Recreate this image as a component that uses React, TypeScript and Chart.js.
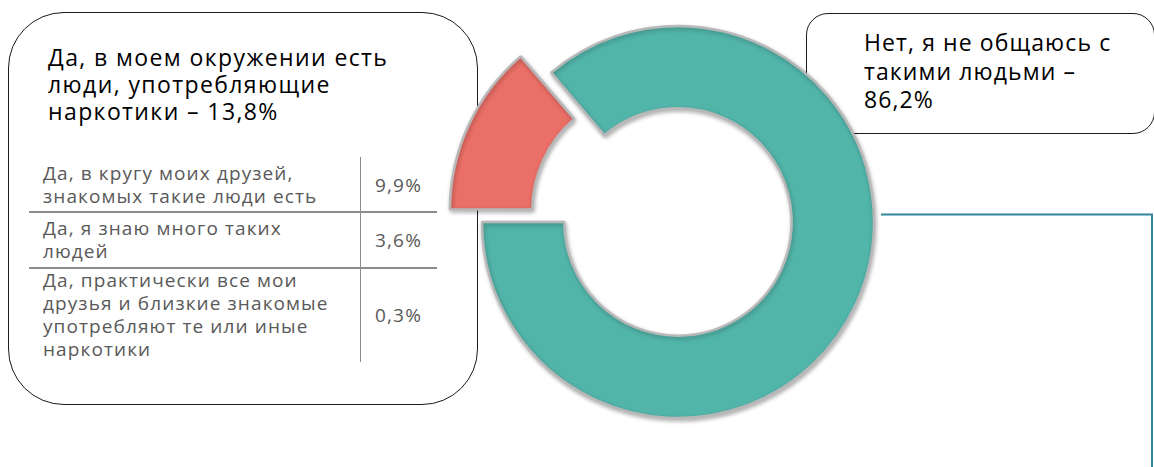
import React, { useEffect, useRef } from "react";
import { Chart, registerables } from "chart.js";

Chart.register(...registerables);

// ---- data ----
const categories = [
  "Да, в моем окружении есть\nлюди, употребляющие\nнаркотики",
  "Нет, я не общаюсь с\nтакими людьми",
];
const shares = [13.8, 86.2];
const sliceColors = ["#EA6F67", "#52B5AA"];
const sliceOffsets = [112, 0];

const subCategories = [
  "Да, в кругу моих друзей,\nзнакомых такие люди есть",
  "Да, я знаю много таких\nлюдей",
  "Да, практически все мои\nдрузья и близкие знакомые\nупотребляют те или иные\nнаркотики",
];
const subShares = [9.9, 3.6, 0.3];

const fmt = (v: number) => v.toFixed(1).replace(".", ",") + "%";

const FONT = "'Open Sans', 'Noto Sans', sans-serif";

const shadowPlugin = {
  id: "softShadow",
  beforeDatasetsDraw(chart: any) {
    const ctx = chart.ctx;
    ctx.save();
    ctx.shadowColor = "rgba(0,0,0,0.28)";
    ctx.shadowBlur = 4;
    ctx.shadowOffsetX = 1;
    ctx.shadowOffsetY = 2;
  },
  afterDatasetsDraw(chart: any) {
    chart.ctx.restore();
  },
};

const connectorPlugin = {
  id: "connector",
  afterDraw(chart: any) {
    const arc = chart.getDatasetMeta(0).data[1];
    if (!arc) return;
    const ctx = chart.ctx;
    const y = arc.y - 7.5;
    const x0 = arc.x + arc.outerRadius + 7;
    const x1 = chart.width - 2;
    ctx.save();
    ctx.strokeStyle = "#31859C";
    ctx.lineWidth = 2;
    ctx.beginPath();
    ctx.moveTo(x0, y);
    ctx.lineTo(x1, y);
    ctx.lineTo(x1, chart.height);
    ctx.stroke();
    ctx.restore();
  },
};

export default function App() {
  const ref = useRef<HTMLCanvasElement | null>(null);

  useEffect(() => {
    if (!ref.current) return;
    const chart = new Chart(ref.current, {
      type: "doughnut",
      data: {
        labels: categories.map((c) => c.replace(/\n/g, " ")),
        datasets: [
          {
            data: shares,
            backgroundColor: sliceColors,
            borderColor: "#B8B8B8",
            borderWidth: 2.5,
            offset: sliceOffsets,
            hoverOffset: 0,
          },
        ],
      },
      options: {
        animation: false,
        responsive: false,
        maintainAspectRatio: false,
        rotation: 270,
        cutout: "58%",
        radius: 196,
        layout: { padding: { left: 202, right: 0, top: 0, bottom: 23 } },
        plugins: {
          legend: { display: false },
          tooltip: { enabled: false },
        },
      } as any,
      plugins: [shadowPlugin, connectorPlugin],
    });
    return () => chart.destroy();
  }, []);

  const rowTops = [157, 212, 268];
  const rowBottoms = [212, 268, 362];

  return (
    <div
      style={{
        position: "absolute",
        left: 0,
        top: 0,
        width: 1154,
        height: 467,
        overflow: "hidden",
        background: "#fff",
        fontFamily: FONT,
      }}
    >
      {/* left box */}
      <div
        style={{
          position: "absolute",
          left: 8,
          top: 12,
          width: 468,
          height: 391,
          border: "1.3px solid #1a1a1a",
          borderRadius: 56,
        }}
      />
      <div
        style={{
          position: "absolute",
          left: 48,
          top: 44,
          fontSize: 23,
          lineHeight: "27px",
          letterSpacing: "1.4px",
          color: "#000",
          whiteSpace: "pre-line",
        }}
      >
        {categories[0] + " – " + fmt(shares[0])}
      </div>
      {/* table */}
      {subCategories.map((s, i) => (
        <React.Fragment key={i}>
          <div
            style={{
              position: "absolute",
              left: 43,
              top: rowTops[i],
              height: rowBottoms[i] - rowTops[i],
              width: 316,
              display: "flex",
              alignItems: "center",
              fontSize: 19,
              lineHeight: "23px",
              letterSpacing: "1.1px",
              color: "#595959",
              whiteSpace: "pre-line",
            }}
          >
            {s}
          </div>
          <div
            style={{
              position: "absolute",
              left: 360,
              top: rowTops[i],
              height: rowBottoms[i] - rowTops[i],
              width: 77,
              display: "flex",
              alignItems: "center",
              justifyContent: "center",
              fontSize: 19,
              letterSpacing: "1.2px",
              color: "#595959",
            }}
          >
            {fmt(subShares[i])}
          </div>
        </React.Fragment>
      ))}
      <div style={{ position: "absolute", left: 29, top: 211, width: 408, height: 1.5, background: "#8c8c8c" }} />
      <div style={{ position: "absolute", left: 29, top: 267, width: 408, height: 1.5, background: "#8c8c8c" }} />
      <div style={{ position: "absolute", left: 359.5, top: 157, width: 1.5, height: 205, background: "#8c8c8c" }} />

      {/* right box */}
      <div
        style={{
          position: "absolute",
          left: 806,
          top: 13,
          width: 347,
          height: 119,
          border: "1.3px solid #1a1a1a",
          borderRadius: 22,
        }}
      />
      <div
        style={{
          position: "absolute",
          left: 864,
          top: 28,
          fontSize: 23,
          lineHeight: "28.5px",
          letterSpacing: "1.1px",
          color: "#000",
          whiteSpace: "pre-line",
        }}
      >
        {categories[1] + " –\n" + fmt(shares[1])}
      </div>

      <canvas
        ref={ref}
        width={1154}
        height={467}
        style={{ position: "absolute", left: 0, top: 0, width: 1154, height: 467, pointerEvents: "none" }}
      />
    </div>
  );
}
